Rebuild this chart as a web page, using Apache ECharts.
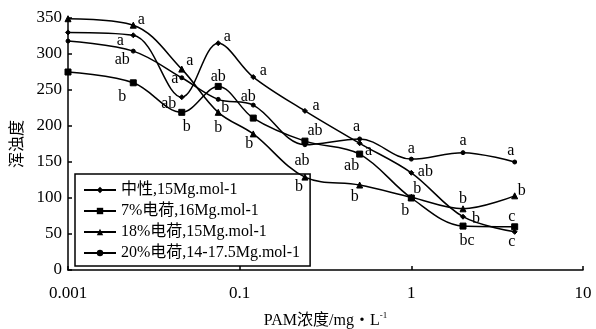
<!DOCTYPE html>
<html>
<head>
<meta charset="utf-8">
<script src="https://cdn.jsdelivr.net/npm/echarts@6/dist/echarts.min.js"></script>
<style>
html,body{margin:0;padding:0;background:#fff;}
#chart{width:596px;height:329px;}
</style>
</head>
<body>
<div id="chart"></div>
<script>
// ---- data ----
var concentrations = [0.01, 0.024, 0.046, 0.075, 0.12, 0.24, 0.5, 1, 2, 4];
var seriesNames = ['中性,15Mg.mol-1', '7%电荷,16Mg.mol-1', '18%电荷,15Mg.mol-1', '20%电荷,14-17.5Mg.mol-1'];
var neutral  = [330, 326, 240, 315, 268, 221, 176, 135, 74, 53];
var charge7  = [275, 260, 219, 255, 211, 179, 161, 100, 61, 60];
var charge18 = [349, 340, 279, 219, 189, 129, 118, 101, 85, 103];
var charge20 = [318, 304, 267, 237, 229, 174, 182, 154, 163, 150];
var lettersNeutral  = ['', 'a', 'ab', 'a', 'a', 'a', 'ab', 'ab', 'b', 'c'];
var letters7  = ['', 'b', 'b', 'ab', '', 'ab', 'a', 'b', 'bc', 'c'];
var letters18 = ['', 'a', 'a', 'b', 'b', 'b', 'b', 'b', 'b', 'b'];
var letters20 = ['', 'ab', 'a', 'b', 'ab', 'ab', 'a', 'a', 'a', 'a'];
var xTickValues = [0.01, 0.1, 1, 10];
var xTickLabels = ['0.001', '0.1', '1', '10'];
var yTicks = [0, 50, 100, 150, 200, 250, 300, 350];

// ---- label placement (styling) ----
var offNeutral = [null, [-13,6], [-13,7], [9,-6], [10,-6], [11,-5], [-8,23], [14,-1], [13,2], [-3,10]];
var off7  = [null, [-11,14], [5,14], [0,-10], null, [10,-10], [9,-3], [-6,13], [4,15], [-3,-10]];
var off18 = [null, [8,-5], [8,-8], [0,15], [-4,10], [-6,10], [-5,12], [6,-8], [0,-10], [7,-5]];
var off20 = [null, [-11,9], [-7,1], [7,8], [-5,-8], [-3,16], [-3,-12], [0,-10], [0,-12], [-4,-11]];

var SERIF = '"Times New Roman","Liberation Serif","Noto Sans CJK SC",serif';

function build(values, letters, offsets) {
  return values.map(function (v, i) {
    var item = { value: [concentrations[i], v] };
    if (letters[i]) {
      item.label = {
        show: true,
        formatter: letters[i],
        position: 'inside',
        offset: offsets[i] || [0, 0]
      };
    }
    return item;
  });
}

function mkSeries(name, values, letters, offsets, symbol, size) {
  return {
    name: name,
    type: 'line',
    smooth: 0.35,
    symbol: symbol,
    symbolSize: size,
    showAllSymbol: true,
    data: build(values, letters, offsets),
    lineStyle: { color: '#000', width: 1.5 },
    itemStyle: { color: '#000', borderColor: '#000' },
    label: {
      show: false,
      color: '#000',
      fontFamily: SERIF,
      fontSize: 16,
      align: 'center',
      verticalAlign: 'middle'
    },
    emphasis: { disabled: true },
    animation: false
  };
}

var chart = echarts.init(document.getElementById('chart'), null, { renderer: 'canvas' });
chart.setOption({
  animation: false,
  backgroundColor: '#fff',
  grid: { left: 68, right: 13, top: 18, bottom: 59, containLabel: false, outerBoundsMode: 'none' },
  legend: {
    orient: 'vertical',
    left: 75,
    top: 174,
    padding: [8, 10, 5, 8],
    itemWidth: 32,
    itemHeight: 8,
    itemGap: 5,
    borderColor: '#000',
    borderWidth: 1.5,
    borderRadius: 0,
    backgroundColor: 'transparent',
    textStyle: { color: '#000', fontFamily: SERIF, fontSize: 16 },
    data: seriesNames
  },
  xAxis: {
    type: 'log',
    logBase: 10,
    min: xTickValues[0],
    max: xTickValues[xTickValues.length - 1],
    name: '{a|PAM浓度/mg・L}{s|-1}',
    nameLocation: 'middle',
    nameGap: 41,
    nameTextStyle: {
      rich: {
        a: { fontFamily: SERIF, fontSize: 16, color: '#000' },
        s: { fontFamily: SERIF, fontSize: 9, color: '#000', verticalAlign: 'top', padding: [0, 0, 10, 0] }
      }
    },
    axisLine: { show: true, lineStyle: { color: '#000', width: 1.5 } },
    axisTick: { show: true, inside: true, length: 4, lineStyle: { color: '#000', width: 1.5 } },
    minorTick: { show: false },
    splitLine: { show: false },
    axisLabel: {
      color: '#000',
      fontFamily: SERIF,
      fontSize: 17,
      margin: 15,
      formatter: function (v) {
        for (var i = 0; i < xTickValues.length; i++) {
          if (Math.abs(Math.log10(v) - Math.log10(xTickValues[i])) < 1e-6) return xTickLabels[i];
        }
        return '';
      }
    }
  },
  yAxis: {
    type: 'value',
    min: yTicks[0],
    max: yTicks[yTicks.length - 1],
    interval: yTicks[1] - yTicks[0],
    name: '浑浊度',
    nameLocation: 'middle',
    nameGap: 41,
    nameTextStyle: { color: '#000', fontFamily: SERIF, fontSize: 16 },
    axisLine: { show: true, lineStyle: { color: '#000', width: 1.5 } },
    axisTick: { show: true, inside: true, length: 4, lineStyle: { color: '#000', width: 1.5 } },
    splitLine: { show: false },
    axisLabel: { color: '#000', fontFamily: SERIF, fontSize: 17, margin: 6 }
  },
  series: [
    mkSeries(seriesNames[0], neutral, lettersNeutral, offNeutral, 'diamond', 5),
    mkSeries(seriesNames[1], charge7, letters7, off7, 'rect', 6),
    mkSeries(seriesNames[2], charge18, letters18, off18, 'triangle', 6),
    mkSeries(seriesNames[3], charge20, letters20, off20, 'circle', 4)
  ]
});
</script>
</body>
</html>
